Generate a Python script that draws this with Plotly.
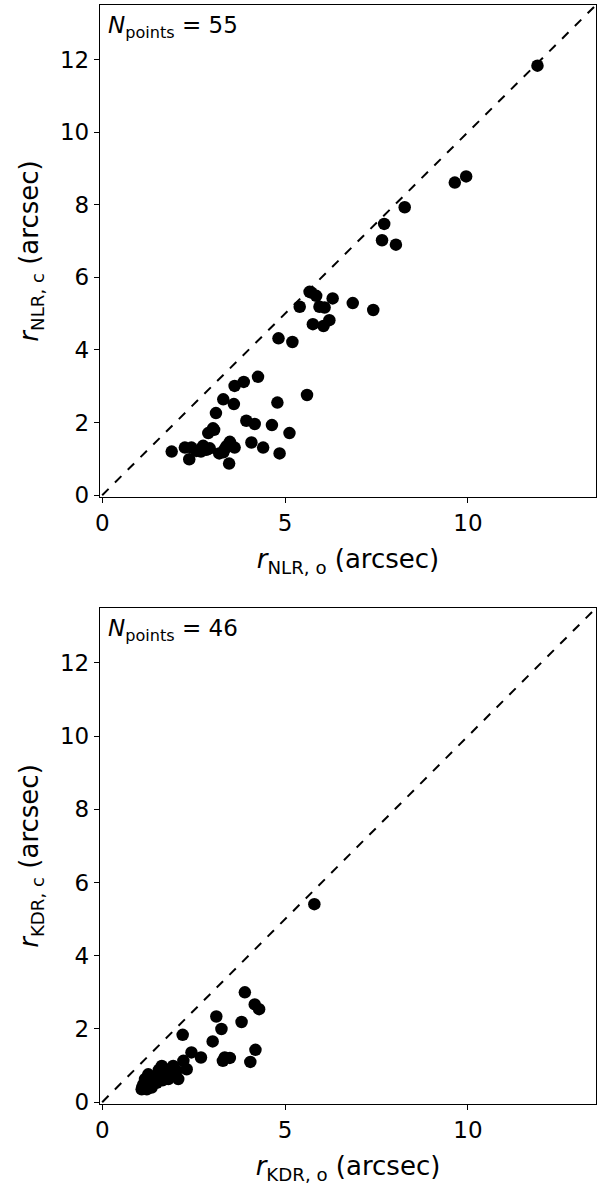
import plotly.graph_objects as go
from plotly.subplots import make_subplots

# Top panel: NLR sizes
nlr_obs = [1.90, 2.26, 2.44, 2.38, 2.58, 2.76, 2.94, 2.70, 2.90, 3.03, 3.11, 3.31, 3.35, 3.49,
           3.62, 3.47, 3.20, 3.31, 3.60, 3.62, 3.87, 4.26, 3.94, 4.17, 4.08, 4.40, 4.64, 4.79,
           4.85, 5.12, 5.60, 4.82, 5.20, 5.40, 5.67, 5.85, 5.94, 6.08, 6.30, 6.85, 7.41, 5.76,
           6.05, 6.21, 7.65, 7.71, 8.03, 8.27, 9.64, 9.95, 11.90, 5.72, 3.06, 2.85, 3.40]
nlr_cor = [1.20, 1.31, 1.31, 0.99, 1.22, 1.36, 1.29, 1.20, 1.71, 1.84, 2.26, 1.18, 1.27, 1.47,
           1.31, 0.87, 1.15, 2.64, 2.51, 3.01, 3.12, 3.26, 2.05, 1.96, 1.45, 1.31, 1.93, 2.55,
           1.15, 1.71, 2.76, 4.32, 4.22, 5.19, 5.60, 5.49, 5.19, 5.17, 5.42, 5.29, 5.10, 4.71,
           4.66, 4.82, 7.02, 7.47, 6.90, 7.93, 8.61, 8.78, 11.83, 5.58, 1.80, 1.25, 1.35]

# Bottom panel: KDR sizes
kdr_obs = [3.90, 4.17, 4.29, 3.12, 3.81, 3.26, 2.20, 3.02, 4.19, 2.44, 2.70, 3.35, 3.49, 3.30,
           4.05, 5.80, 2.22, 2.31, 2.08, 2.03, 1.90, 1.72, 1.63, 1.53, 1.40, 1.26, 1.31, 1.13,
           1.08, 1.22, 1.35, 1.17, 1.49, 1.81, 1.94, 1.10, 1.18, 1.25, 1.45, 1.58, 1.65, 1.75,
           1.85, 2.00, 1.55, 1.28]
kdr_cor = [3.00, 2.67, 2.54, 2.34, 2.19, 2.00, 1.84, 1.66, 1.43, 1.36, 1.22, 1.22, 1.21, 1.13,
           1.10, 5.41, 1.13, 0.90, 0.63, 0.86, 0.81, 0.76, 0.99, 0.76, 0.67, 0.76, 0.53, 0.49,
           0.35, 0.35, 0.40, 0.63, 0.53, 0.63, 0.99, 0.42, 0.45, 0.55, 0.62, 0.66, 0.60, 0.85,
           0.72, 0.72, 0.88, 0.65]

x_ticks = [0, 5, 10]
y_ticks = [0, 2, 4, 6, 8, 10, 12]
one_to_one = [0, 14]

W, H = 597, 1189
fig = make_subplots(rows=2, cols=1)

FONT = "DejaVu Sans"
for row, (xs, ys) in enumerate([(nlr_obs, nlr_cor), (kdr_obs, kdr_cor)], start=1):
    fig.add_trace(go.Scatter(x=one_to_one, y=one_to_one, mode="lines",
                             line=dict(color="black", width=2, dash="dash"),
                             showlegend=False, hoverinfo="skip"), row=row, col=1)
    fig.add_trace(go.Scatter(x=xs, y=ys, mode="markers",
                             marker=dict(color="black", size=12.5, line=dict(width=0)),
                             showlegend=False), row=row, col=1)

top_dom = [1 - 497 / H, 1 - 5 / H]
bot_dom = [1 - 1104 / H, 1 - 608 / H]

axis_common = dict(showline=True, mirror=True, linecolor="black", linewidth=1.3,
                   ticks="outside", ticklen=5, tickwidth=1.2, tickcolor="black",
                   showgrid=False, zeroline=False, automargin=False,
                   tickfont=dict(family=FONT, size=23, color="black"))

fig.update_xaxes(**axis_common, range=[-0.06, 13.5], tickvals=x_ticks,
                 title_font=dict(family=FONT, size=26, color="black"), title_standoff=15)
fig.update_yaxes(**axis_common, range=[-0.05, 13.5], tickvals=y_ticks,
                 title_font=dict(family=FONT, size=26, color="black"), title_standoff=13)

fig.update_layout(
    width=W, height=H,
    margin=dict(l=100, r=1, t=0, b=0),
    plot_bgcolor="white", paper_bgcolor="white",
    xaxis=dict(domain=[0, 1], title_text="<i>r</i><sub>NLR, o</sub> (arcsec)"),
    yaxis=dict(domain=top_dom, title_text="<i>r</i><sub>NLR, c</sub> (arcsec)"),
    xaxis2=dict(domain=[0, 1], title_text="<i>r</i><sub>KDR, o</sub> (arcsec)"),
    yaxis2=dict(domain=bot_dom, title_text="<i>r</i><sub>KDR, c</sub> (arcsec)"),
)

for xr, yr, n in [("x domain", "y domain", 55), ("x2 domain", "y2 domain", 46)]:
    fig.add_annotation(xref=xr, yref=yr, x=0.012, y=0.99, xanchor="left", yanchor="top",
                       text=f"<i>N</i><sub>points</sub> = {n}", showarrow=False,
                       font=dict(family=FONT, size=23, color="black"))

fig.write_html("out.html")
